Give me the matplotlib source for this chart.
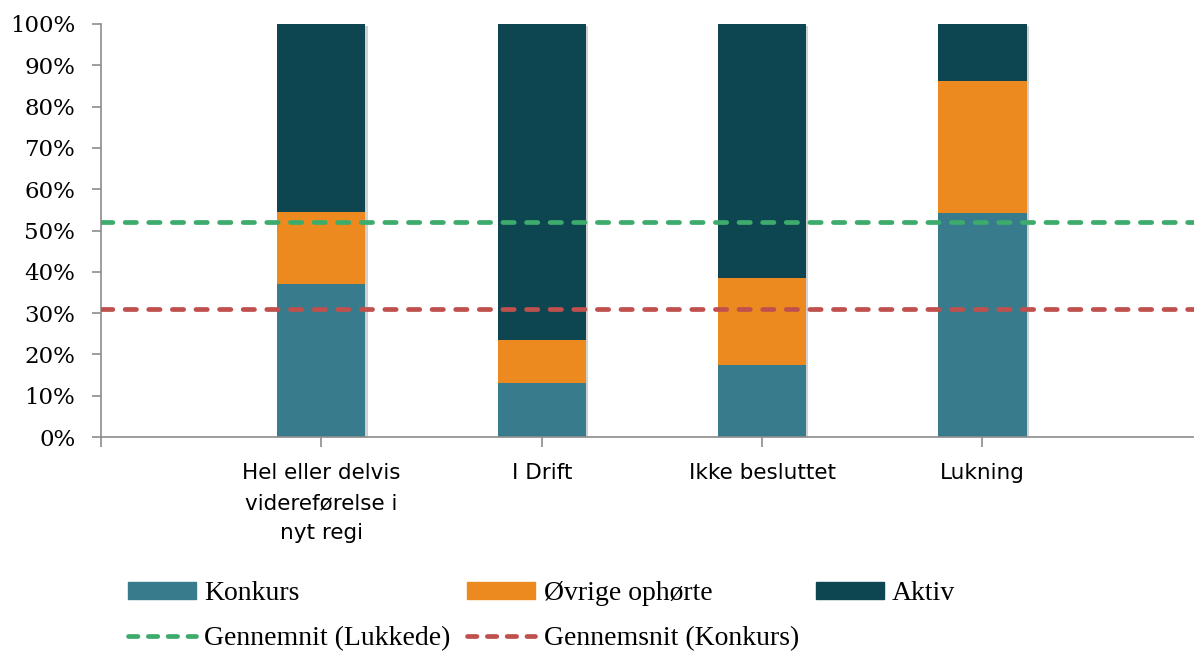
import matplotlib.pyplot as plt
from matplotlib.lines import Line2D
from matplotlib.patches import Patch
import matplotlib.patheffects as pe

# data (shares of 100%)
categories = ["Hel eller delvis\nvidereførelse i\nnyt regi", "I Drift", "Ikke besluttet", "Lukning"]
konkurs = [0.370, 0.130, 0.175, 0.543]
ovrige = [0.175, 0.106, 0.209, 0.319]
aktiv = [1 - k - o for k, o in zip(konkurs, ovrige)]
snit_lukkede = 0.520
snit_konkurs = 0.309

c_konkurs = "#377B8D"
c_ovrige = "#EC8A1F"
c_aktiv = "#0D4551"
c_green = "#3DAB6C"
c_red = "#C0504D"

fig = plt.figure(figsize=(11.94, 6.51), dpi=100)
ax = fig.add_axes([101 / 1194, 1 - 437 / 651, 1 - 101 / 1194, 413 / 651])

x = [1, 2, 3, 4]
bottom3 = [k + o for k, o in zip(konkurs, ovrige)]
totals = [b + a for b, a in zip(bottom3, aktiv)]

# soft shadow behind each whole stack
bg = ax.bar(x, totals, width=0.4, color="white", zorder=1)
for r in bg:
    r.set_path_effects([pe.SimplePatchShadow(offset=(1.5, -1.2), shadow_rgbFace="k", alpha=0.18)])

ax.bar(x, konkurs, width=0.4, color=c_konkurs, zorder=2)
ax.bar(x, ovrige, width=0.4, bottom=konkurs, color=c_ovrige, zorder=2)
ax.bar(x, aktiv, width=0.4, bottom=bottom3, color=c_aktiv, zorder=2)

dash = (0, (2.4, 2.6))
ax.axhline(snit_lukkede, color=c_green, lw=3.4, ls=dash, dash_capstyle="round", zorder=3)
ax.axhline(snit_konkurs, color=c_red, lw=3.4, ls=dash, dash_capstyle="round", zorder=3)

ax.set_xlim(0, 4.96)
ax.set_ylim(0, 1)
ax.set_xticks([0, 1, 2, 3, 4])
ax.set_xticklabels([""] + categories, family=["Liberation Sans Narrow", "DejaVu Sans"],
                   fontsize=15.5, linespacing=1.6)
ax.set_yticks([i / 10 for i in range(11)])
ax.set_yticklabels([f"{i * 10}%" for i in range(11)], family="DejaVu Serif", fontsize=16.5)

for s in ("top", "right"):
    ax.spines[s].set_visible(False)
for s in ("left", "bottom"):
    ax.spines[s].set_color("#8c8c8c")
    ax.spines[s].set_linewidth(1.2)
ax.tick_params(axis="y", length=6.5, width=1.2, color="#8c8c8c", pad=12)
ax.tick_params(axis="x", length=7, width=1.2, color="#8c8c8c", pad=12)

handles = [
    Patch(color=c_konkurs),
    Line2D([], [], color=c_green, lw=3.4, ls=(0, (2.0, 2.2)), dash_capstyle="round"),
    Patch(color=c_ovrige),
    Line2D([], [], color=c_red, lw=3.4, ls=(0, (2.0, 2.2)), dash_capstyle="round"),
    Patch(color=c_aktiv),
]
labels = ["Konkurs", "Gennemnit (Lukkede)", "Øvrige ophørte", "Gennemsnit (Konkurs)", "Aktiv"]
fig.legend(handles, labels, ncol=3, loc="lower left", bbox_to_anchor=(114 / 1194, -0.021),
           frameon=False, prop={"family": "Liberation Serif", "size": 20},
           handlelength=2.45, handleheight=0.54, handletextpad=0.3,
           columnspacing=0.6, labelspacing=0.7, borderpad=0)

fig.savefig("out.png", dpi=100)
